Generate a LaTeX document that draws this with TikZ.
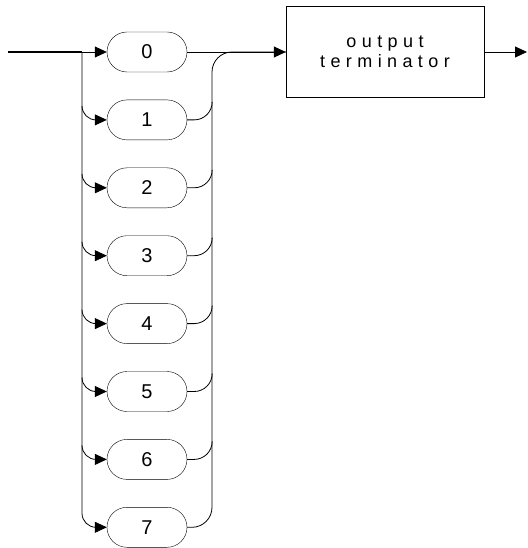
\documentclass[tikz,border=0pt]{standalone}
\usepackage{fontspec}
\setsansfont{Liberation Sans}
\newfontfamily\wideface[LetterSpace=30]{Liberation Sans}
\usetikzlibrary{arrows.meta}
\tikzset{
  digit/.style={draw, rounded corners=20pt, minimum width=80pt, minimum height=40pt, inner sep=0pt, font=\sffamily\fontsize{20}{24}\selectfont},
  termbox/.style={draw, minimum width=198pt, minimum height=91pt, align=center, font=\wideface\fontsize{18}{20}\selectfont},
  line/.style={line width=0.8pt},
  feed/.style={line, -{Triangle[length=12pt, width=11pt]}},
}

\begin{document}
\begin{tikzpicture}[x=1pt, y=1pt]
    \useasboundingbox (0,0) rectangle (527,-548);
    \foreach \i in {0,...,7}
      \node[digit] (d\i) at (147,-52-67.9*\i) {\i};
    \node[termbox] (term) at (385,-52) {output\\terminator};
    \coordinate (in) at (8,-52);
    \coordinate (split) at (82,-52);
    \coordinate (rail) at (212,-52);
    \coordinate (out) at (527,-52);
    % entry side
    \draw[line width=1.6pt] (in) -- (split);
    \draw[feed] (split) -- (d0.west);
    \draw[feed, rounded corners=14pt] (split) |- (d7.west);
    \foreach \i in {1,...,6}
      \draw[feed, rounded corners=14pt] (split |- d\i.west) ++(0,14) |- (d\i.west);
    % exit side
    \draw[feed] (d0.east) -- (term.west);
    \draw[line, rounded corners=20pt] (d7.east) -| (rail) -- (term.west);
    \foreach \i in {1,...,6}
      \draw[line, rounded corners=18pt] (d\i.east) -| ++(25,18);
    \draw[feed] (term.east) -- (out);
  \end{tikzpicture}
\end{document}
